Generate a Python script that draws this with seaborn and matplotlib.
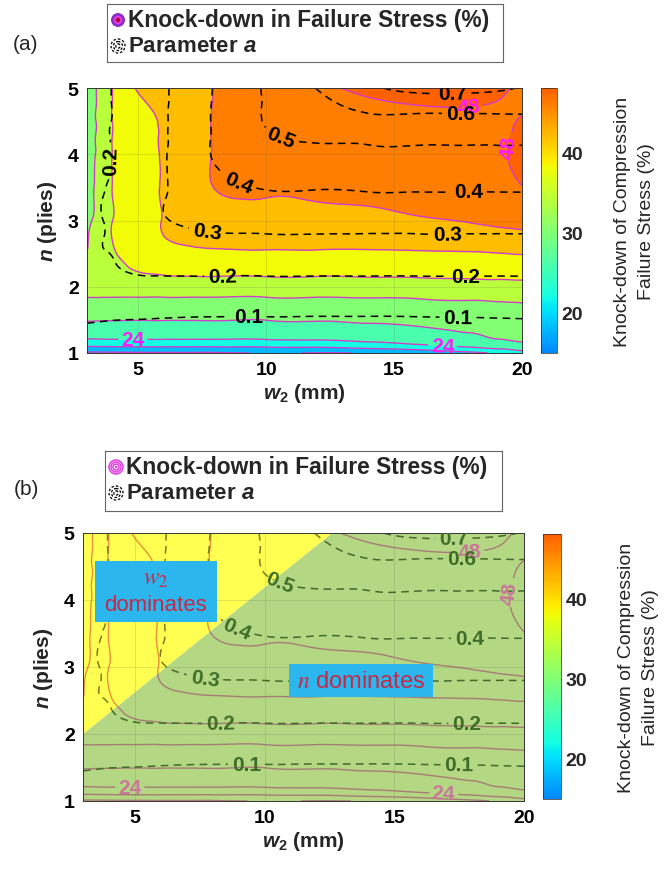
import numpy as np
import matplotlib
matplotlib.use("Agg")
import matplotlib.pyplot as plt
import seaborn as sns
from matplotlib.colors import ListedColormap, Normalize
from matplotlib.patches import Polygon, Rectangle, Circle
from matplotlib.cm import ScalarMappable
from matplotlib.tri import Triangulation, UniformTriRefiner

sns.set_style("white")
plt.rcParams.update({
    "font.family": ["Liberation Sans", "DejaVu Sans"],
    "mathtext.fontset": "custom",
    "mathtext.it": "Liberation Sans:italic:bold",
    "mathtext.rm": "Liberation Sans:bold",
    "mathtext.bf": "Liberation Sans:bold",
})

# ---------------- data ----------------
W2 = [3, 3.5, 4, 5, 6, 7, 8, 10, 12, 14, 16, 18, 19, 20]
N_PLIES = [1.0, 1.1, 1.25, 1.4, 1.6, 1.85, 2.1, 2.35, 2.6, 3.0, 3.5, 4.0, 4.25, 4.5, 4.75, 5.0]

# knock-down of compression failure stress (%), rows follow N_PLIES, columns follow W2
KNOCKDOWN = [
    [15.3, 15.3, 15.4, 15.5, 15.6, 15.6, 15.6, 16.2, 15.8, 16.1, 17.0, 19.0, 20.5, 22.5],
    [20.0, 20.1, 20.2, 20.3, 20.3, 20.3, 20.3, 20.4, 20.6, 21.5, 22.8, 24.5, 25.5, 26.5],
    [24.8, 24.9, 25.0, 25.0, 25.0, 25.0, 25.0, 25.1, 25.3, 25.8, 26.5, 27.6, 28.3, 29.0],
    [27.0, 27.0, 27.0, 27.0, 27.0, 27.0, 27.0, 27.0, 27.2, 27.5, 28.0, 28.7, 29.3, 30.0],
    [29.6, 29.5, 29.4, 29.3, 29.3, 29.3, 29.3, 29.3, 29.4, 29.6, 29.9, 30.4, 30.8, 31.2],
    [32.1, 32.1, 32.1, 32.1, 32.1, 32.1, 32.1, 32.1, 32.1, 32.2, 32.4, 32.6, 32.7, 32.8],
    [33.0, 33.8, 34.5, 35.1, 35.3, 35.4, 35.4, 35.4, 35.4, 35.5, 35.6, 35.8, 35.9, 36.0],
    [32.7, 34.0, 35.2, 36.6, 37.3, 37.6, 37.8, 37.9, 37.9, 37.9, 38.0, 38.1, 38.2, 38.3],
    [31.9, 33.6, 35.8, 37.9, 39.2, 39.9, 40.2, 40.4, 40.4, 40.4, 40.6, 40.8, 41.1, 41.5],
    [31.3, 33.4, 36.0, 38.3, 40.2, 41.3, 41.9, 42.4, 42.6, 43.0, 43.7, 44.2, 44.6, 45.0],
    [30.8, 33.2, 36.1, 38.3, 40.4, 42.1, 44.1, 44.7, 45.0, 45.3, 45.6, 45.9, 46.5, 47.9],
    [30.5, 33.0, 36.1, 38.2, 40.4, 42.2, 44.3, 45.8, 46.1, 46.4, 46.8, 47.1, 47.5, 48.8],
    [30.5, 33.0, 36.1, 38.4, 40.5, 42.3, 44.3, 46.1, 46.4, 46.7, 47.0, 47.2, 47.5, 48.6],
    [30.4, 32.9, 36.1, 38.6, 40.6, 42.4, 44.3, 46.4, 46.8, 47.1, 47.3, 47.35, 47.5, 48.2],
    [30.3, 32.8, 36.1, 39.4, 41.0, 42.5, 44.2, 46.6, 47.2, 47.7, 48.05, 48.1, 47.9, 47.7],
    [30.2, 32.7, 36.0, 40.3, 41.6, 42.7, 44.1, 46.9, 47.7, 48.4, 49.0, 49.0, 48.4, 47.7],
]

# parameter a, same grid
PARAM_A = [
    [0.030, 0.030, 0.030, 0.030, 0.030, 0.030, 0.030, 0.030, 0.030, 0.030, 0.030, 0.030, 0.030, 0.030],
    [0.045, 0.045, 0.045, 0.045, 0.045, 0.045, 0.045, 0.045, 0.045, 0.045, 0.045, 0.045, 0.045, 0.045],
    [0.068, 0.067, 0.066, 0.065, 0.065, 0.065, 0.065, 0.065, 0.065, 0.065, 0.065, 0.065, 0.065, 0.065],
    [0.093, 0.090, 0.087, 0.085, 0.083, 0.082, 0.082, 0.082, 0.082, 0.082, 0.082, 0.083, 0.084, 0.085],
    [0.118, 0.116, 0.114, 0.112, 0.110, 0.108, 0.107, 0.107, 0.106, 0.106, 0.107, 0.108, 0.109, 0.110],
    [0.145, 0.145, 0.145, 0.145, 0.145, 0.145, 0.145, 0.145, 0.145, 0.145, 0.145, 0.145, 0.145, 0.145],
    [0.160, 0.170, 0.180, 0.190, 0.190, 0.190, 0.190, 0.190, 0.190, 0.190, 0.190, 0.190, 0.190, 0.190],
    [0.170, 0.185, 0.197, 0.215, 0.222, 0.225, 0.226, 0.226, 0.226, 0.226, 0.226, 0.226, 0.226, 0.226],
    [0.180, 0.198, 0.205, 0.235, 0.250, 0.255, 0.260, 0.262, 0.262, 0.262, 0.262, 0.262, 0.262, 0.262],
    [0.170, 0.195, 0.213, 0.260, 0.295, 0.315, 0.330, 0.338, 0.338, 0.338, 0.338, 0.338, 0.338, 0.338],
    [0.170, 0.195, 0.205, 0.260, 0.295, 0.335, 0.370, 0.405, 0.405, 0.410, 0.410, 0.410, 0.410, 0.410],
    [0.165, 0.190, 0.203, 0.255, 0.295, 0.345, 0.410, 0.470, 0.480, 0.485, 0.485, 0.485, 0.485, 0.485],
    [0.163, 0.188, 0.203, 0.253, 0.293, 0.347, 0.410, 0.490, 0.510, 0.515, 0.515, 0.515, 0.515, 0.515],
    [0.160, 0.185, 0.202, 0.250, 0.292, 0.350, 0.410, 0.505, 0.545, 0.570, 0.570, 0.570, 0.570, 0.570],
    [0.155, 0.180, 0.202, 0.248, 0.290, 0.350, 0.408, 0.507, 0.575, 0.630, 0.640, 0.640, 0.640, 0.640],
    [0.150, 0.175, 0.203, 0.245, 0.288, 0.350, 0.405, 0.510, 0.603, 0.680, 0.730, 0.730, 0.715, 0.695],
]

K_LEVELS = [16, 20, 24, 28, 32, 36, 40, 44, 48]
A_LEVELS = [0.1, 0.2, 0.3, 0.4, 0.5, 0.6, 0.7]
K_LABEL_LEVELS = [24, 48]
CBAR_TICKS = [20, 30, 40]
X_TICKS = [5, 10, 15, 20]
Y_TICKS = [1, 2, 3, 4, 5]

# label anchor points (data coordinates)
K_LABEL_AT = [(4.8, 1.21), (16.9, 1.1), (17.9, 4.76), (19.93, 4.1)]
A_LABEL_AT_A = [(9.3, 1.55), (17.5, 1.55), (3.95, 3.9), (8.3, 2.17), (17.8, 2.17),
                (7.7, 2.85), (17.1, 2.8), (8.9, 3.55), (17.9, 3.45), (10.6, 4.28),
                (17.6, 4.6), (17.3, 4.91)]
A_LABEL_AT_B = [(9.3, 1.55), (17.5, 1.55), (3.95, 3.9), (8.3, 2.17), (17.8, 2.17),
                (7.7, 2.85), (8.9, 3.55), (17.9, 3.45), (10.6, 4.28),
                (17.6, 4.6), (17.3, 4.91)]

# regions of panel (b)
W2_REGION = [(3, 2.0), (12.6, 5.0), (3, 5.0)]
N_REGION = [(3, 1), (20, 1), (20, 5), (12.6, 5.0), (3, 2.0)]

KD_LINE = "#d23cc8"
KD_TEXT = "#ff19ff"
BOX_FACE = "#2cb6ee"
BOX_TEXT = "#c42a48"
GREEN_FACE = "#b4d783"
YELLOW_FACE = "#ffff52"

# ---------------- figure ----------------
FW, FH = 672, 879
fig = plt.figure(figsize=(FW / 100, FH / 100), dpi=100)


def px_rect(x0, y0, x1, y1):
    return [x0 / FW, 1 - y1 / FH, (x1 - x0) / FW, (y1 - y0) / FH]


ax_a = fig.add_axes(px_rect(87, 89, 522, 354))
cax_a = fig.add_axes(px_rect(541, 89, 557, 354))
ax_b = fig.add_axes(px_rect(83, 534, 524, 802))
cax_b = fig.add_axes(px_rect(543, 535, 561, 800))

X, Y = np.meshgrid(W2, N_PLIES)
K = np.array(KNOCKDOWN)
A = np.array(PARAM_A)

# smooth (cubic) refinement of the measured grid for drawing the contours
tri = Triangulation(X.ravel(), Y.ravel())
refiner = UniformTriRefiner(tri)
tri_k, z_k = refiner.refine_field(K.ravel(), subdiv=3)
tri_a, z_a = refiner.refine_field(A.ravel(), subdiv=3)

cmap = ListedColormap(matplotlib.colormaps["jet"](np.linspace(0.258, 0.808, 256)))
norm = Normalize(15, 48)


def style_axes(ax):
    ax.set_xlim(3, 20)
    ax.set_ylim(1, 5)
    ax.set_xticks(X_TICKS)
    ax.set_yticks(Y_TICKS)
    ax.tick_params(direction="in", length=4, width=0.6, labelsize=14, pad=6,
                   colors="0.15", labelcolor="black")
    for t in ax.get_xticklabels() + ax.get_yticklabels():
        t.set_fontweight("bold")
    for s in ax.spines.values():
        s.set_linewidth(0.7)
        s.set_color("0.2")
    ax.grid(True, color="0.3", alpha=0.18, lw=0.6)
    ax.set_axisbelow(False)
    ax.set_xlabel("$w_2$ (mm)", fontsize=15, fontweight="bold", labelpad=2)
    ax.set_ylabel("$n$ (plies)", fontsize=15, fontweight="bold", labelpad=6)


def draw_lines(ax, k_color, a_color, k_text, a_text, label_at, labels=True, clip=None):
    plain = [lv for lv in K_LEVELS if lv not in K_LABEL_LEVELS]
    c1 = ax.tricontour(tri_k, z_k, levels=plain, colors=k_color, linewidths=1.0,
                       zorder=2)
    ck = ax.tricontour(tri_k, z_k, levels=K_LABEL_LEVELS, colors=k_color,
                       linewidths=1.0, zorder=2)
    ca = ax.tricontour(tri_a, z_a, levels=A_LEVELS, colors=a_color, linewidths=1.1,
                       linestyles=[(0, (5, 3.5))], zorder=2)
    if labels:
        kl = ax.clabel(ck, manual=K_LABEL_AT, fmt="%d", fontsize=15,
                       colors=k_text, inline=True, inline_spacing=3)
        al = ax.clabel(ca, manual=label_at, fmt="%.1f", fontsize=15,
                       colors=a_text, inline=True, inline_spacing=4)
        for t in list(kl) + list(al):
            t.set_fontweight("bold")
    if clip is not None:
        for cs in (c1, ck, ca):
            cs.set_clip_path(clip)


def colorbar(cax):
    sm = ScalarMappable(norm=norm, cmap=cmap)
    cb = fig.colorbar(sm, cax=cax, ticks=CBAR_TICKS)
    cb.set_label("Knock-down of Compression\nFailure Stress (%)", fontsize=14,
                 labelpad=22, linespacing=1.55)
    cb.ax.tick_params(labelsize=14, direction="in", length=3, width=0.6)
    for t in cb.ax.get_yticklabels():
        t.set_fontweight("bold")
    cb.outline.set_linewidth(0.5)


def legend_box(rect, filled_icon):
    x0, y0, x1, y1 = rect
    lax = fig.add_axes(px_rect(*rect))
    w, h = x1 - x0, y1 - y0
    lax.set_xlim(0, w)
    lax.set_ylim(h, 0)
    lax.set_xticks([])
    lax.set_yticks([])
    for s in lax.spines.values():
        s.set_linewidth(0.8)
        s.set_color("0.4")
    cx, cy1, cy2 = 11, 16, 42
    if filled_icon:
        lax.add_patch(Circle((cx, cy1), 7, fc="#8a2fc8", ec="none"))
        lax.add_patch(Circle((cx, cy1), 4.3, fc="#e23ae0", ec="none"))
        lax.add_patch(Circle((cx, cy1), 2.2, fc="#b0002c", ec="none"))
    else:
        for r in (7, 5, 3):
            lax.add_patch(Circle((cx, cy1), r, fc="none", ec="#e03ce0", lw=1.1))
        lax.add_patch(Circle((cx, cy1), 1.2, fc="#e03ce0", ec="none"))
    for r in (7, 4.5, 2.2):
        lax.add_patch(Circle((cx, cy2), r, fc="none", ec="black", lw=0.9,
                             ls=(0, (2, 1.5))))
    lax.text(21, cy1, "Knock-down in Failure Stress (%)", fontsize=16.4,
             fontweight="bold", va="center", ha="left")
    lax.text(21, cy2, "Parameter $a$", fontsize=16, fontweight="bold",
             va="center", ha="left")


# ---- panel (a) ----
ax_a.tricontourf(tri_k, z_k, levels=K_LEVELS, cmap=cmap, norm=norm, extend="both",
                 zorder=1)
draw_lines(ax_a, KD_LINE, "black", KD_TEXT, "black", A_LABEL_AT_A)
style_axes(ax_a)
colorbar(cax_a)
legend_box((107, 5, 503, 63), True)
fig.text(26 / FW, 1 - 45 / FH, "(a)", fontsize=15, ha="center", va="center")

# ---- panel (b) ----
green_patch = Polygon(N_REGION, closed=True, fc=GREEN_FACE, ec="none", zorder=0.5)
yellow_patch = Polygon(W2_REGION, closed=True, fc=YELLOW_FACE, ec="none", zorder=0.5)
ax_b.add_patch(green_patch)
ax_b.add_patch(yellow_patch)
draw_lines(ax_b, "#a67d74", "#416a2b", "#c8789a", "#3e6d27", A_LABEL_AT_B,
           labels=True, clip=green_patch)
draw_lines(ax_b, "#e8923a", "#7c7a1c", None, None, None, labels=False,
           clip=yellow_patch)
ax_b.add_patch(Rectangle((3.46, 3.67), 4.69, 0.91, fc=BOX_FACE, ec="none", zorder=5))
ax_b.text(5.8, 4.33, "$w_2$", fontsize=17, color=BOX_TEXT, ha="center", va="center",
          math_fontfamily="stix", zorder=6)
ax_b.text(5.8, 3.93, "dominates", fontsize=16, color=BOX_TEXT, ha="center",
          va="center", zorder=6)
ax_b.add_patch(Rectangle((10.96, 2.55), 5.54, 0.49, fc=BOX_FACE, ec="none", zorder=5))
ax_b.text(13.73, 2.79, "$n$ dominates", fontsize=17, color=BOX_TEXT, ha="center",
          va="center", math_fontfamily="stix", zorder=6)
style_axes(ax_b)
colorbar(cax_b)
legend_box((105, 452, 502, 512), False)
fig.text(26 / FW, 1 - 490 / FH, "(b)", fontsize=15, ha="center", va="center")

fig.savefig("out.png", dpi=100)
